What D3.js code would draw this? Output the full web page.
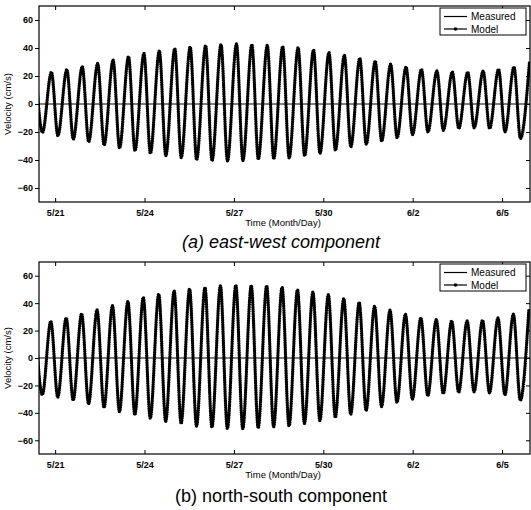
<!DOCTYPE html>
<html><head><meta charset="utf-8">
<script src="https://cdn.jsdelivr.net/npm/d3@7"></script>
<style>
body{margin:0;background:#fff}
svg{display:block}
text{font-family:"Liberation Sans",Arial,Helvetica,sans-serif;fill:#000}
</style>
</head><body>
<svg id="chart" width="531" height="510"></svg>
<script>
// Record window and tidal timing (UTC)
const timeStart = "2003-05-20T11:00:00Z";
const timeEnd = "2003-06-05T22:30:00Z";
const tidePeriodHours = 12.42;
const dateTicks = ["2003-05-21", "2003-05-24", "2003-05-27", "2003-05-30", "2003-06-02", "2003-06-05"];
const velocityTicks = [-60, -40, -20, 0, 20, 40, 60];
const seriesNames = ["Measured", "Model"];

// East-west component: successive flood peaks and ebb troughs (cm/s).
// The first peak falls just before the record start.
const ewFirstPeak = "2003-05-20T08:35:00Z";
const ewFallHours = 5.2;
const ewPeaksMeasured = [21.0, 22.3, 24.2, 26.4, 28.5, 31.1, 33.5, 35.9, 37.5, 39.2, 40.4, 41.4, 42.3, 42.8, 42.1, 41.5, 41.0,
  39.9, 38.3, 36.4, 34.5, 32.3, 30.4, 28.0, 26.1, 24.4, 23.2, 22.5, 22.5, 23.2, 24.4, 26.1, 29.2];
const ewTroughsMeasured = [-19.9, -22.3, -24.7, -26.6, -29.0, -31.1, -33.0, -34.9, -36.6, -37.8, -39.5, -40.2, -40.2, -40.2, -39.0, -38.8,
  -38.2, -36.6, -34.9, -32.5, -30.2, -28.3, -26.1, -23.7, -21.4, -19.5, -18.3, -17.1, -16.6, -17.1, -19.5, -24.2];
const ewPeaksModel = [21.5, 22.8, 24.6, 26.8, 28.9, 31.4, 33.8, 36.1, 37.9, 39.5, 40.8, 41.7, 42.5, 42.9, 42.4, 41.8, 41.1,
  40.2, 38.6, 36.7, 34.8, 32.7, 30.6, 28.4, 26.5, 24.8, 23.6, 22.9, 22.8, 23.5, 24.8, 26.5, 29.5];
const ewTroughsModel = [-20.3, -22.6, -25.1, -27.0, -29.3, -31.5, -33.3, -35.2, -36.9, -38.2, -39.8, -40.5, -40.6, -40.4, -39.4, -39.1,
  -38.5, -37.0, -35.2, -32.9, -30.6, -28.6, -26.5, -24.0, -21.8, -19.9, -18.7, -17.5, -17.0, -17.5, -19.8, -24.6];

// North-south component: successive flood peaks and ebb troughs (cm/s).
const nsFirstPeak = "2003-05-20T08:05:00Z";
const nsFallHours = 5.6;
const nsPeaksMeasured = [25.0, 26.3, 28.8, 31.9, 34.8, 37.7, 40.9, 43.8, 46.2, 48.6, 50.1, 51.0, 52.3, 52.7, 52.7, 52.3, 51.3,
  49.4, 47.7, 45.8, 42.9, 40.2, 37.3, 34.4, 31.5, 28.9, 27.6, 26.7, 26.6, 27.1, 28.8, 31.5, 34.4];
const nsTroughsMeasured = [-26.4, -28.1, -30.4, -33.0, -35.8, -38.6, -41.0, -43.6, -45.8, -47.5, -49.2, -50.2, -51.0, -51.2, -50.6, -49.8,
  -49.2, -47.4, -45.2, -43.0, -40.6, -38.0, -35.0, -32.0, -29.5, -27.2, -25.5, -24.6, -24.2, -25.0, -26.5, -30.5];
const nsPeaksModel = [25.4, 26.8, 29.2, 32.3, 35.1, 38.1, 41.2, 44.1, 46.6, 48.9, 50.4, 51.4, 52.6, 53.0, 52.9, 52.6, 51.6,
  49.8, 48.0, 46.1, 43.3, 40.5, 37.7, 34.8, 31.9, 29.3, 28.0, 27.1, 27.0, 27.5, 29.2, 31.9, 34.8];
const nsTroughsModel = [-26.8, -28.5, -30.8, -33.4, -36.1, -39.0, -41.3, -43.9, -46.2, -47.8, -49.6, -50.5, -51.4, -51.5, -51.0, -50.1,
  -49.6, -47.7, -45.6, -43.3, -41.0, -38.3, -35.4, -32.3, -29.9, -27.6, -25.9, -25.0, -24.6, -25.4, -26.9, -30.9];

const panels = [
  {top: 6, bottom: 202, caption: "(a) east-west component", captionY: 248, italic: true,
   firstPeak: ewFirstPeak, fallHours: ewFallHours,
   measured: [ewPeaksMeasured, ewTroughsMeasured], model: [ewPeaksModel, ewTroughsModel]},
  {top: 262, bottom: 454, caption: "(b) north-south component", captionY: 502, italic: false,
   firstPeak: nsFirstPeak, fallHours: nsFallHours,
   measured: [nsPeaksMeasured, nsTroughsMeasured], model: [nsPeaksModel, nsTroughsModel]}
];

const svg = d3.select("#chart");
const left = 39, right = 530;
const hour = 3600 * 1000;
const parse = s => new Date(s);

const x = d3.scaleUtc().domain([parse(timeStart), parse(timeEnd)]).range([left, right]);
const fmt = d3.utcFormat("%-m/%-d");

// Interleave peaks and troughs into one time-ordered series
function extremes(firstPeak, fallHours, peaks, troughs) {
  const t0 = parse(firstPeak).getTime();
  const pts = [];
  peaks.forEach((v, i) => {
    pts.push({t: new Date(t0 + i * tidePeriodHours * hour), v});
    if (i < troughs.length) pts.push({t: new Date(t0 + (i * tidePeriodHours + fallHours) * hour), v: troughs[i]});
  });
  return pts;
}

panels.forEach((p, k) => {
  const y = d3.scaleLinear().domain([-70, 70]).range([p.bottom, p.top]);
  const g = svg.append("g");
  const clipId = "plot" + k;
  svg.append("clipPath").attr("id", clipId).append("rect")
    .attr("x", left).attr("y", p.top).attr("width", right - left).attr("height", p.bottom - p.top);

  const line = d3.line().x(d => x(d.t)).y(d => y(d.v)).curve(d3.curveMonotoneX);
  const meas = extremes(p.firstPeak, p.fallHours, p.measured[0], p.measured[1]);
  const mod = extremes(p.firstPeak, p.fallHours, p.model[0], p.model[1]);

  const plot = g.append("g").attr("clip-path", `url(#${clipId})`);
  // zero reference
  plot.append("line").attr("x1", left).attr("x2", right).attr("y1", y(0)).attr("y2", y(0))
    .attr("stroke", "#000").attr("stroke-width", 1);
  // model: line with dense point markers
  plot.append("path").attr("d", line(mod)).attr("fill", "none")
    .attr("stroke", "#000").attr("stroke-width", 3.4)
    .attr("stroke-dasharray", "0 2.3").attr("stroke-linecap", "round");
  plot.append("path").attr("d", line(mod)).attr("fill", "none")
    .attr("stroke", "#000").attr("stroke-width", 1);
  // measured
  plot.append("path").attr("d", line(meas)).attr("fill", "none")
    .attr("stroke", "#000").attr("stroke-width", 1.3);

  // frame
  g.append("rect").attr("x", left).attr("y", p.top).attr("width", right - left).attr("height", p.bottom - p.top)
    .attr("fill", "none").attr("stroke", "#000").attr("stroke-width", 1.2);

  // y axis (left, outward ticks)
  const yAxis = d3.axisLeft(y).tickValues(velocityTicks).tickSize(4).tickPadding(2);
  const ya = g.append("g").attr("transform", `translate(${left},0)`).call(yAxis);
  ya.select(".domain").remove();
  ya.selectAll("text").attr("font-size", 9).attr("font-weight", "bold").attr("font-family", "Liberation Sans, Arial, sans-serif");
  // right ticks (inward)
  const yr = g.append("g").attr("transform", `translate(${right},0)`)
    .call(d3.axisRight(y).tickValues(velocityTicks).tickSize(-4).tickFormat(""));
  yr.select(".domain").remove();

  // x axis (bottom and top, inward ticks)
  const xa = g.append("g").attr("transform", `translate(0,${p.bottom})`)
    .call(d3.axisBottom(x).tickValues(dateTicks.map(parse)).tickSize(-4).tickPadding(8).tickFormat(fmt));
  xa.select(".domain").remove();
  xa.selectAll("text").attr("font-size", 9).attr("font-weight", "bold").attr("font-family", "Liberation Sans, Arial, sans-serif");
  const xt = g.append("g").attr("transform", `translate(0,${p.top})`)
    .call(d3.axisTop(x).tickValues(dateTicks.map(parse)).tickSize(-4).tickFormat(""));
  xt.select(".domain").remove();
  g.selectAll(".tick line").attr("stroke", "#000").attr("stroke-width", 1);

  // axis titles
  g.append("text").attr("transform", `translate(11,${y(0)}) rotate(-90)`)
    .attr("text-anchor", "middle").attr("font-size", 9.5).text("Velocity (cm/s)");
  g.append("text").attr("x", 283).attr("y", p.bottom + 24)
    .attr("text-anchor", "middle").attr("font-size", 9.5).text("Time (Month/Day)");

  // caption
  g.append("text").attr("x", 281).attr("y", p.captionY).attr("text-anchor", "middle")
    .attr("font-size", 18).attr("font-style", p.italic ? "italic" : "normal").text(p.caption);

  // legend
  const lg = g.append("g").attr("transform", `translate(440,${p.top + 2})`);
  lg.append("rect").attr("width", 86).attr("height", 27).attr("fill", "#fff").attr("stroke", "#000").attr("stroke-width", 1);
  seriesNames.forEach((name, i) => {
    const ly = 8.5 + i * 12.5;
    lg.append("line").attr("x1", 4).attr("x2", 27).attr("y1", ly).attr("y2", ly).attr("stroke", "#000").attr("stroke-width", 1.2);
    if (i === 1) lg.append("circle").attr("cx", 15.5).attr("cy", ly).attr("r", 1.8).attr("fill", "#000");
    lg.append("text").attr("x", 31).attr("y", ly + 3.5).attr("font-size", 10).text(name);
  });
});
</script>
</body></html>
